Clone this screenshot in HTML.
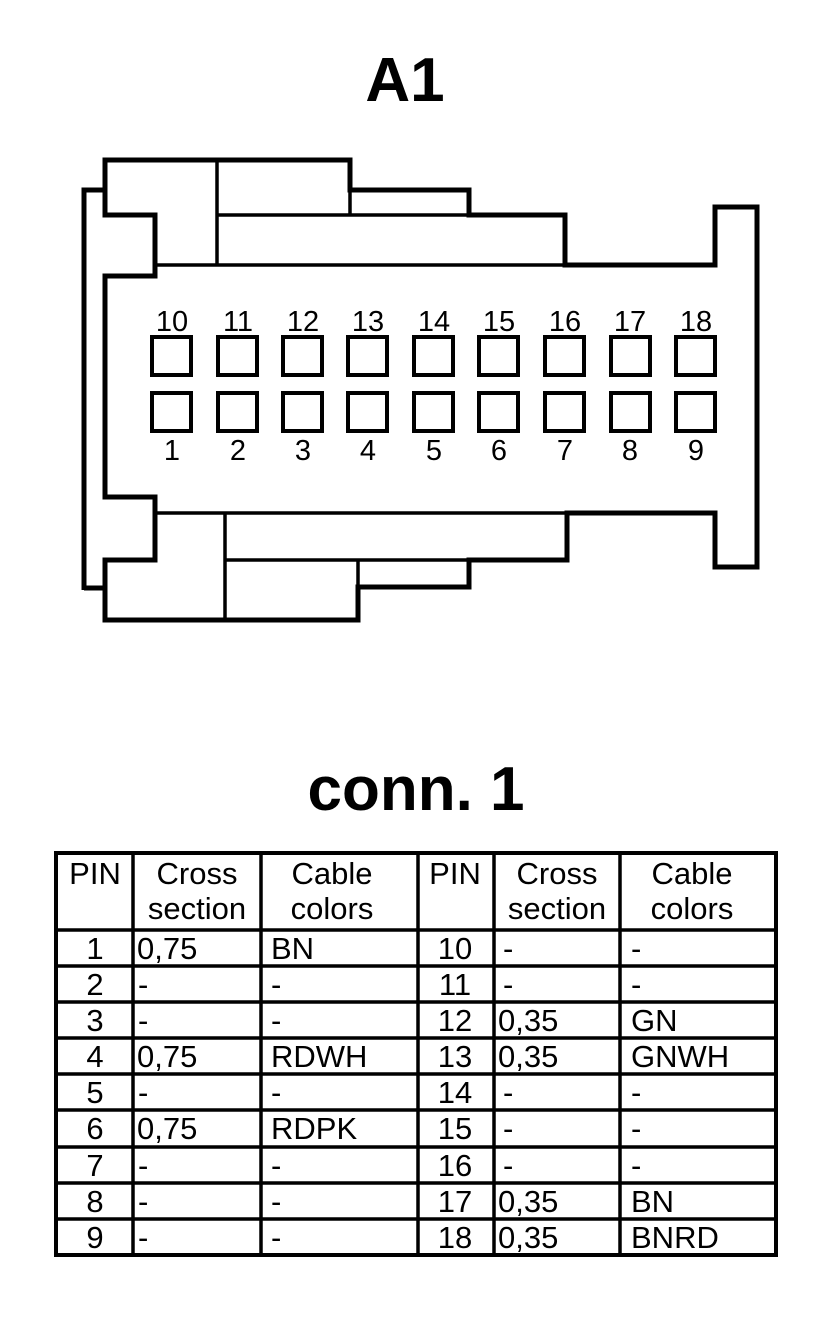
<!DOCTYPE html>
<html><head><meta charset="utf-8"><style>html,body{margin:0;padding:0;background:#fff}svg{display:block}</style></head><body>
<svg width="832" height="1324" viewBox="0 0 832 1324" xmlns="http://www.w3.org/2000/svg" font-family="Liberation Sans, Arial, sans-serif">
<rect width="832" height="1324" fill="#fff"/>
<text x="405" y="101" font-size="62" font-weight="bold" text-anchor="middle">A1</text>
<g fill="none" stroke="#000" stroke-width="5" stroke-linejoin="miter">
<path d="M84,590 V190 H105"/>
<path d="M105,190 V160 H350 V190 H469 V215 H565 V265 H715 V207 H757 V567 H715 V513 H567 V560 H469 V587 H358 V620 H105 V560 H155 V497 H105 V276 H155 V215 H105 V190"/>
<path d="M84,588 H105"/>
</g>
<g fill="none" stroke="#000" stroke-width="3.5">
<path d="M217,160 V265"/><path d="M217,215 H469"/><path d="M350,190 V215"/><path d="M155,265 H565"/>
<path d="M155,513 H567"/><path d="M225,513 V620"/><path d="M225,560 H469"/><path d="M358,560 V587"/>
</g>
<g fill="none" stroke="#000" stroke-width="4">
<rect x="152" y="337" width="39" height="38"/><rect x="218" y="337" width="39" height="38"/><rect x="283" y="337" width="39" height="38"/><rect x="348" y="337" width="39" height="38"/><rect x="414" y="337" width="39" height="38"/><rect x="479" y="337" width="39" height="38"/><rect x="545" y="337" width="39" height="38"/><rect x="611" y="337" width="39" height="38"/><rect x="676" y="337" width="39" height="38"/>
<rect x="152" y="393" width="39" height="38"/><rect x="218" y="393" width="39" height="38"/><rect x="283" y="393" width="39" height="38"/><rect x="348" y="393" width="39" height="38"/><rect x="414" y="393" width="39" height="38"/><rect x="479" y="393" width="39" height="38"/><rect x="545" y="393" width="39" height="38"/><rect x="611" y="393" width="39" height="38"/><rect x="676" y="393" width="39" height="38"/>
</g>
<g font-size="29" text-anchor="middle">
<text x="172" y="331">10</text><text x="238" y="331">11</text><text x="303" y="331">12</text><text x="368" y="331">13</text><text x="434" y="331">14</text><text x="499" y="331">15</text><text x="565" y="331">16</text><text x="630" y="331">17</text><text x="696" y="331">18</text>
<text x="172" y="460">1</text><text x="238" y="460">2</text><text x="303" y="460">3</text><text x="368" y="460">4</text><text x="434" y="460">5</text><text x="499" y="460">6</text><text x="565" y="460">7</text><text x="630" y="460">8</text><text x="696" y="460">9</text>
</g>
<text x="416" y="810" font-size="62" font-weight="bold" text-anchor="middle">conn. 1</text>
<g fill="none" stroke="#000">
<rect x="56" y="853" width="720" height="402" stroke-width="4"/>
<g stroke-width="3.5">
<path d="M133,853 V1255 M261,853 V1255 M418,853 V1255 M494,853 V1255 M620,853 V1255"/>
<path d="M56,930 H776 M56,966 H776 M56,1002 H776 M56,1038 H776 M56,1074 H776 M56,1110 H776 M56,1147 H776 M56,1183 H776 M56,1219 H776"/>
</g>
</g>
<g font-size="31" text-anchor="middle">
<text x="95" y="884">PIN</text><text x="197" y="884">Cross</text><text x="197" y="919">section</text><text x="332" y="884">Cable</text><text x="332" y="919">colors</text>
<text x="455" y="884">PIN</text><text x="557" y="884">Cross</text><text x="557" y="919">section</text><text x="692" y="884">Cable</text><text x="692" y="919">colors</text>
</g>
<g font-size="31">
<g text-anchor="middle">
<text x="95" y="959">1</text><text x="95" y="995">2</text><text x="95" y="1031">3</text><text x="95" y="1067">4</text><text x="95" y="1103">5</text><text x="95" y="1139">6</text><text x="95" y="1176">7</text><text x="95" y="1212">8</text><text x="95" y="1248">9</text>
<text x="455" y="959">10</text><text x="455" y="995">11</text><text x="455" y="1031">12</text><text x="455" y="1067">13</text><text x="455" y="1103">14</text><text x="455" y="1139">15</text><text x="455" y="1176">16</text><text x="455" y="1212">17</text><text x="455" y="1248">18</text>
</g>
<text x="137" y="959">0,75</text><text x="138" y="995">-</text><text x="138" y="1031">-</text><text x="137" y="1067">0,75</text><text x="138" y="1103">-</text><text x="137" y="1139">0,75</text><text x="138" y="1176">-</text><text x="138" y="1212">-</text><text x="138" y="1248">-</text>
<text x="271" y="959">BN</text><text x="271" y="995">-</text><text x="271" y="1031">-</text><text x="271" y="1067">RDWH</text><text x="271" y="1103">-</text><text x="271" y="1139">RDPK</text><text x="271" y="1176">-</text><text x="271" y="1212">-</text><text x="271" y="1248">-</text>
<text x="503" y="959">-</text><text x="503" y="995">-</text><text x="498" y="1031">0,35</text><text x="498" y="1067">0,35</text><text x="503" y="1103">-</text><text x="503" y="1139">-</text><text x="503" y="1176">-</text><text x="498" y="1212">0,35</text><text x="498" y="1248">0,35</text>
<text x="631" y="959">-</text><text x="631" y="995">-</text><text x="631" y="1031">GN</text><text x="631" y="1067">GNWH</text><text x="631" y="1103">-</text><text x="631" y="1139">-</text><text x="631" y="1176">-</text><text x="631" y="1212">BN</text><text x="631" y="1248">BNRD</text>
</g>
</svg>
</body></html>
